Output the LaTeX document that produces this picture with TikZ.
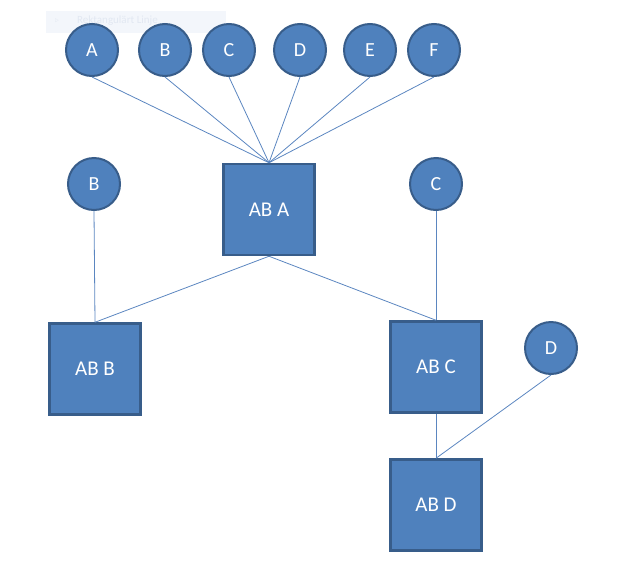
\documentclass[tikz,border=0pt]{standalone}
\usepackage{fontspec}
\setmainfont{Carlito}
\definecolor{boxfill}{HTML}{4F81BD}
\definecolor{boxline}{HTML}{385D8A}
\definecolor{conn}{HTML}{5B86C0}
\definecolor{faintbg}{HTML}{F3F6FB}
\definecolor{fainttx}{HTML}{E2E8F2}
\begin{document}
\begin{tikzpicture}[x=1pt,y=-1pt,
  circ/.style={circle,draw=boxline,fill=boxfill,line width=2pt,minimum size=52pt,inner sep=0pt,text=white,font=\fontsize{20}{20}\selectfont},
  sq/.style={rectangle,draw=boxline,fill=boxfill,line width=2.5pt,minimum size=91pt,inner sep=0pt,text=white,font=\fontsize{21}{21}\selectfont},
  link/.style={draw=conn,line width=0.8pt}]
\useasboundingbox (0,0) rectangle (631,573);
\fill[faintbg] (46,11) rectangle (226,33);
\node[anchor=west,text=fainttx,font=\fontsize{11}{11}\selectfont,inner sep=0pt] (tip) at (77,21) {Rektangulärt Linje};
\node[text=fainttx,font=\fontsize{7}{7}\selectfont,inner sep=0pt] (tipm) at (57,21) {$\triangleright$};
\node[sq] (ABA) at (269,209.5) {AB A};
\node[sq] (ABB) at (95,369) {AB B};
\node[sq] (ABC) at (436,367) {AB C};
\node[sq] (ABD) at (436,505) {AB D};
\foreach \n/\x in {A/92,B/165,C/229,D/300,E/370,F/434}{
  \node[circ] (t\n) at (\x,50) {\n};
}
\node[circ] (cB) at (94,184) {B};
\node[circ] (cC) at (436,184) {C};
\node[circ] (cD) at (551,348) {D};
\foreach \n in {A,B,C,D,E,F}{
  \draw[link] (t\n.south) -- (ABA.north);
}
\draw[link] (cB.south) -- (ABB.north);
\draw[link] (ABA.south) -- (ABB.north);
\draw[link] (ABA.south) -- (ABC.north);
\draw[link] (cC.south) -- (ABC.north);
\draw[link] (ABC.south) -- (ABD.north);
\draw[link] (cD.south) -- (ABD.north);
\end{tikzpicture}
\end{document}
